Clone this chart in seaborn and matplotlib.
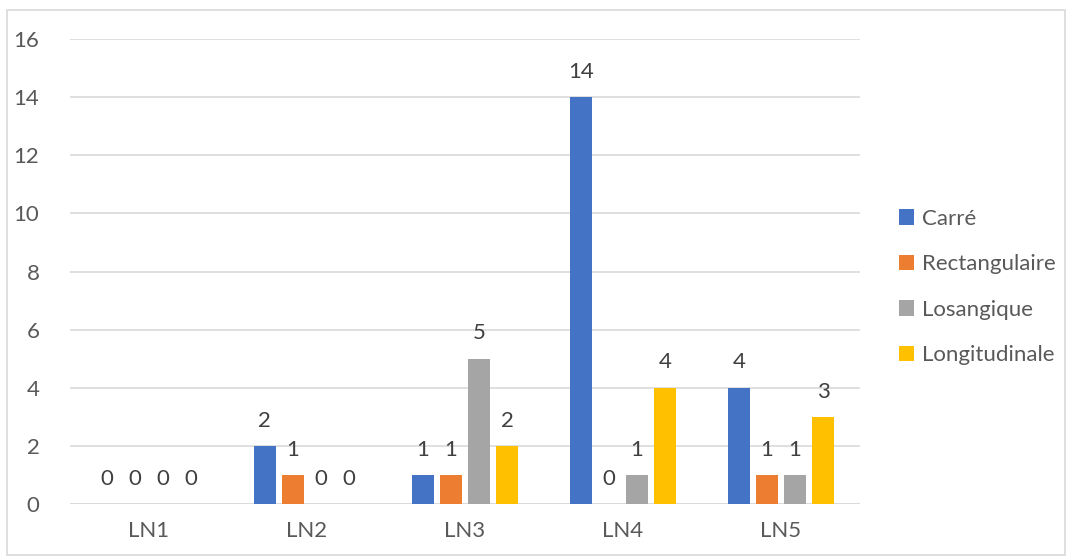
import pandas as pd
import matplotlib
matplotlib.use("Agg")
import matplotlib.pyplot as plt
import seaborn as sns
from matplotlib.patches import Rectangle

categories = ["LN1", "LN2", "LN3", "LN4", "LN5"]
series = ["Carré", "Rectangulaire", "Losangique", "Longitudinale"]
carre = [0, 2, 1, 14, 4]
rectangulaire = [0, 1, 1, 0, 1]
losangique = [0, 0, 5, 1, 1]
longitudinale = [0, 0, 2, 4, 3]
colors = ["#4472c4", "#ed7d31", "#a5a5a5", "#ffc000"]

rows = []
for name, vals in zip(series, [carre, rectangulaire, losangique, longitudinale]):
    for cat, v in zip(categories, vals):
        rows.append({"cat": cat, "serie": name, "val": v})
df = pd.DataFrame(rows)

sns.set_style("white")
plt.rcParams["font.family"] = ["Lato", "DejaVu Sans"]

fig = plt.figure(figsize=(10.71, 5.58), dpi=100)
ax = fig.add_axes([70 / 1071, 1 - 504 / 558, 790 / 1071, 465 / 558])

sns.barplot(data=df, x="cat", y="val", hue="serie", palette=colors,
            saturation=1, width=0.71, gap=0.22, ax=ax, legend=True,
            zorder=3, linewidth=0)

for cont in ax.containers:
    ax.bar_label(cont, padding=11, fontsize=16, color="#404040")

ax.set_ylim(0, 16)
ax.set_yticks(range(0, 17, 2))
ax.yaxis.grid(True, color="#d9d9d9", linewidth=1.2, zorder=0)
ax.set_xlabel("")
ax.set_ylabel("")
for s in ax.spines.values():
    s.set_visible(False)
ax.tick_params(axis="both", length=0, labelsize=16, colors="#595959")
ax.tick_params(axis="y", pad=22)
ax.tick_params(axis="x", pad=12)
ax.axhline(0, color="#d9d9d9", linewidth=1.2, zorder=1)

ax.legend(loc="center left", bbox_to_anchor=((890 - 70) / 790, 0.467),
          frameon=False, fontsize=16, labelcolor="#595959",
          handlelength=0.7, handleheight=0.7, handletextpad=0.35,
          labelspacing=1.15, borderaxespad=0)

fig.patches.append(Rectangle((7 / 1071, 3 / 558), 1058 / 1071, 545 / 558,
                             transform=fig.transFigure, fill=False,
                             edgecolor="#d9d9d9", linewidth=1.2))

fig.savefig("out.png", dpi=100)
